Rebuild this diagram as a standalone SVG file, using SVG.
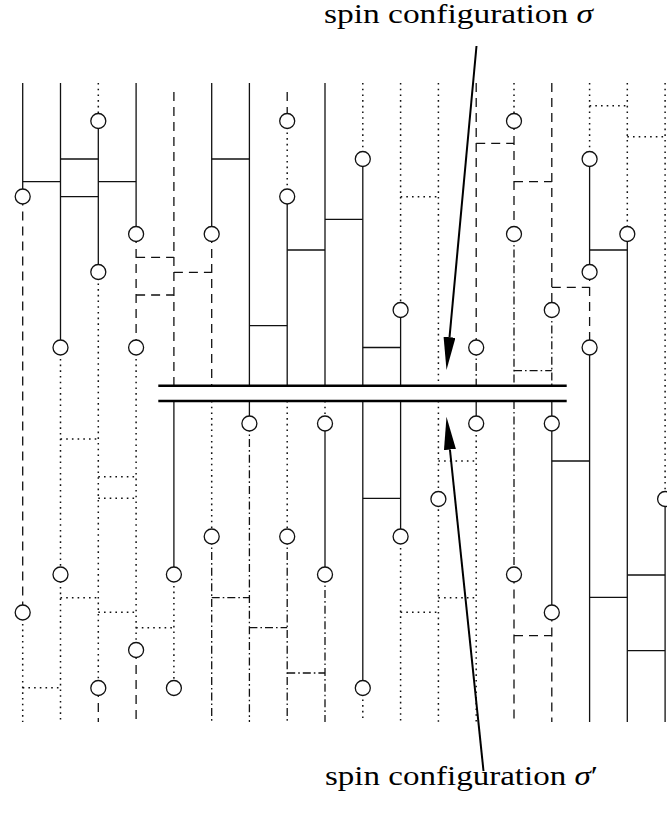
<svg xmlns="http://www.w3.org/2000/svg" width="667" height="814" viewBox="0 0 667 814">
<style>
  line { stroke:#111; stroke-width:1.3; fill:none; }
  .d { stroke-dasharray:9 6; }
  .o { stroke-dasharray:1.6 4.1; stroke-width:1.5; }
  .dd { stroke-dasharray:8 3 1.6 3; }
  circle { fill:#fff; stroke:#111; stroke-width:1.3; }
  .bar { stroke:#000; stroke-width:2.4; }
  .arrow { stroke:#000; stroke-width:2; }
  text { font-family:"Liberation Serif","DejaVu Serif",serif; font-size:27px; fill:#000; }
</style>
<defs>
  <marker id="ah" viewBox="0 0 33 12" refX="0" refY="6" markerWidth="33" markerHeight="12" markerUnits="userSpaceOnUse" orient="auto">
    <path d="M0,0 L33,6 L0,12 z" fill="#000"/>
  </marker>
</defs>
<rect width="667" height="814" fill="#fff"/>

<g id="bridges">
  <!-- solid -->
  <line x1="22.7" y1="181.7" x2="60.5" y2="181.7"/>
  <line x1="98.3" y1="181.7" x2="136.1" y2="181.7"/>
  <line x1="60.5" y1="159" x2="98.3" y2="159"/>
  <line x1="211.7" y1="159" x2="249.4" y2="159"/>
  <line x1="60.5" y1="196.7" x2="98.3" y2="196.7"/>
  <line x1="249.4" y1="325.7" x2="287.2" y2="325.7"/>
  <line x1="287.2" y1="250" x2="325" y2="250"/>
  <line x1="589.6" y1="250" x2="627.3" y2="250"/>
  <line x1="325" y1="219.3" x2="362.8" y2="219.3"/>
  <line x1="362.8" y1="347.5" x2="400.6" y2="347.5"/>
  <line x1="362.8" y1="498.3" x2="400.6" y2="498.3"/>
  <line x1="551.8" y1="461" x2="589.6" y2="461"/>
  <line x1="589.6" y1="597.3" x2="627.3" y2="597.3"/>
  <line x1="627.3" y1="575" x2="665.1" y2="575"/>
  <line x1="627.3" y1="650.7" x2="665.1" y2="650.7"/>
  <!-- dashed -->
  <line class="d" x1="136.1" y1="257.3" x2="173.9" y2="257.3"/>
  <line class="d" x1="136.1" y1="295" x2="173.9" y2="295"/>
  <line class="d" x1="173.9" y1="272.3" x2="211.7" y2="272.3"/>
  <line class="d" x1="476.2" y1="143.3" x2="514" y2="143.3"/>
  <line class="d" x1="514" y1="181.7" x2="551.8" y2="181.7"/>
  <line class="d" x1="551.8" y1="287.3" x2="589.6" y2="287.3"/>
  <line class="d" x1="514" y1="635.7" x2="551.8" y2="635.7"/>
  <!-- dotted -->
  <line class="o" x1="60.5" y1="439" x2="98.3" y2="439"/>
  <line class="o" x1="60.5" y1="597.7" x2="98.3" y2="597.7"/>
  <line class="o" x1="22.7" y1="687.7" x2="60.5" y2="687.7"/>
  <line class="o" x1="98.3" y1="476.7" x2="136.1" y2="476.7"/>
  <line class="o" x1="98.3" y1="498.3" x2="136.1" y2="498.3"/>
  <line class="o" x1="98.3" y1="612.3" x2="136.1" y2="612.3"/>
  <line class="o" x1="136.1" y1="627.7" x2="173.9" y2="627.7"/>
  <line class="o" x1="400.6" y1="196.7" x2="438.4" y2="196.7"/>
  <line class="o" x1="400.6" y1="612.3" x2="438.4" y2="612.3"/>
  <line class="o" x1="438.4" y1="461" x2="476.2" y2="461"/>
  <line class="o" x1="438.4" y1="597.7" x2="476.2" y2="597.7"/>
  <line class="o" x1="589.6" y1="105.7" x2="627.3" y2="105.7"/>
  <line class="o" x1="627.3" y1="136.7" x2="665.1" y2="136.7"/>
  <!-- dash-dot -->
  <line class="dd" x1="211.7" y1="597.7" x2="249.4" y2="597.7"/>
  <line class="dd" x1="249.4" y1="627.7" x2="287.2" y2="627.7"/>
  <line class="dd" x1="287.2" y1="673" x2="325" y2="673"/>
  <line class="dd" x1="514" y1="370.7" x2="551.8" y2="370.7"/>
</g>

<g id="col0">
  <line x1="22.7" y1="83" x2="22.7" y2="196.5"/>
  <line class="d" x1="22.7" y1="196.5" x2="22.7" y2="612.5"/>
  <line class="o" x1="22.7" y1="612.5" x2="22.7" y2="722"/>
  <circle cx="22.7" cy="196.5" r="7.5"/><circle cx="22.7" cy="612.5" r="7.5"/>
</g>
<g id="col1">
  <line x1="60.5" y1="83" x2="60.5" y2="347.5"/>
  <line class="o" x1="60.5" y1="347.5" x2="60.5" y2="722"/>
  <circle cx="60.5" cy="347.5" r="7.5"/><circle cx="60.5" cy="574.5" r="7.5"/>
</g>
<g id="col2">
  <line class="o" x1="98.3" y1="83" x2="98.3" y2="121"/>
  <line x1="98.3" y1="121" x2="98.3" y2="272"/>
  <line class="o" x1="98.3" y1="272" x2="98.3" y2="688"/>
  <line class="d" x1="98.3" y1="688" x2="98.3" y2="722"/>
  <circle cx="98.3" cy="121" r="7.5"/><circle cx="98.3" cy="272" r="7.5"/><circle cx="98.3" cy="688" r="7.5"/>
</g>
<g id="col3">
  <line x1="136.1" y1="83" x2="136.1" y2="234"/>
  <line class="d" x1="136.1" y1="234" x2="136.1" y2="347.5"/>
  <line class="o" x1="136.1" y1="347.5" x2="136.1" y2="650"/>
  <line class="d" x1="136.1" y1="650" x2="136.1" y2="722"/>
  <circle cx="136.1" cy="234" r="7.5"/><circle cx="136.1" cy="347.5" r="7.5"/><circle cx="136.1" cy="650" r="7.5"/>
</g>
<g id="col4">
  <line class="d" x1="173.9" y1="92" x2="173.9" y2="386"/>
  <line x1="173.9" y1="401" x2="173.9" y2="574.5"/>
  <line class="o" x1="173.9" y1="574.5" x2="173.9" y2="688"/>
  <circle cx="173.9" cy="574.5" r="7.5"/><circle cx="173.9" cy="688" r="7.5"/>
</g>
<g id="col5">
  <line x1="211.7" y1="83" x2="211.7" y2="234"/>
  <line class="d" x1="211.7" y1="234" x2="211.7" y2="386"/>
  <line class="o" x1="211.7" y1="401" x2="211.7" y2="536.5"/>
  <line class="dd" x1="211.7" y1="536.5" x2="211.7" y2="722"/>
  <circle cx="211.7" cy="234" r="7.5"/><circle cx="211.7" cy="536.5" r="7.5"/>
</g>
<g id="col6">
  <line x1="249.4" y1="83" x2="249.4" y2="386"/>
  <line x1="249.4" y1="401" x2="249.4" y2="423.5"/>
  <line class="dd" x1="249.4" y1="423.5" x2="249.4" y2="722"/>
  <circle cx="249.4" cy="423.5" r="7.5"/>
</g>
<g id="col7">
  <line class="d" x1="287.2" y1="92" x2="287.2" y2="121"/>
  <line class="o" x1="287.2" y1="121" x2="287.2" y2="196.5"/>
  <line x1="287.2" y1="196.5" x2="287.2" y2="386"/>
  <line class="o" x1="287.2" y1="401" x2="287.2" y2="536.5"/>
  <line class="dd" x1="287.2" y1="536.5" x2="287.2" y2="722"/>
  <circle cx="287.2" cy="121" r="7.5"/><circle cx="287.2" cy="196.5" r="7.5"/><circle cx="287.2" cy="536.5" r="7.5"/>
</g>
<g id="col8">
  <line x1="325" y1="83" x2="325" y2="386"/>
  <line class="o" x1="325" y1="401" x2="325" y2="423.5"/>
  <line x1="325" y1="423.5" x2="325" y2="574.5"/>
  <line class="dd" x1="325" y1="574.5" x2="325" y2="722"/>
  <circle cx="325" cy="423.5" r="7.5"/><circle cx="325" cy="574.5" r="7.5"/>
</g>
<g id="col9">
  <line class="o" x1="362.8" y1="83" x2="362.8" y2="159"/>
  <line x1="362.8" y1="159" x2="362.8" y2="386"/>
  <line x1="362.8" y1="401" x2="362.8" y2="688"/>
  <line class="o" x1="362.8" y1="688" x2="362.8" y2="722"/>
  <circle cx="362.8" cy="159" r="7.5"/><circle cx="362.8" cy="688" r="7.5"/>
</g>
<g id="col10">
  <line class="o" x1="400.6" y1="83" x2="400.6" y2="310"/>
  <line x1="400.6" y1="310" x2="400.6" y2="386"/>
  <line x1="400.6" y1="401" x2="400.6" y2="536.5"/>
  <line class="o" x1="400.6" y1="536.5" x2="400.6" y2="722"/>
  <circle cx="400.6" cy="310" r="7.5"/><circle cx="400.6" cy="536.5" r="7.5"/>
</g>
<g id="col11">
  <line class="o" x1="438.4" y1="83" x2="438.4" y2="386"/>
  <line class="o" x1="438.4" y1="401" x2="438.4" y2="722"/>
  <circle cx="438.4" cy="499" r="7.5"/>
</g>
<g id="col12">
  <line class="d" x1="476.2" y1="83" x2="476.2" y2="347.5"/>
  <line class="dd" x1="476.2" y1="347.5" x2="476.2" y2="386"/>
  <line x1="476.2" y1="401" x2="476.2" y2="423.5"/>
  <line class="o" x1="476.2" y1="423.5" x2="476.2" y2="722"/>
  <circle cx="476.2" cy="347.5" r="7.5"/><circle cx="476.2" cy="423.5" r="7.5"/>
</g>
<g id="col13">
  <line class="o" x1="514" y1="83" x2="514" y2="121"/>
  <line class="d" x1="514" y1="121" x2="514" y2="234"/>
  <line class="dd" x1="514" y1="234" x2="514" y2="386"/>
  <line class="dd" x1="514" y1="401" x2="514" y2="574.5"/>
  <line class="d" x1="514" y1="574.5" x2="514" y2="722"/>
  <circle cx="514" cy="121" r="7.5"/><circle cx="514" cy="234" r="7.5"/><circle cx="514" cy="574.5" r="7.5"/>
</g>
<g id="col14">
  <line class="d" x1="551.8" y1="83" x2="551.8" y2="310"/>
  <line class="dd" x1="551.8" y1="310" x2="551.8" y2="386"/>
  <line x1="551.8" y1="401" x2="551.8" y2="612.5"/>
  <line class="d" x1="551.8" y1="612.5" x2="551.8" y2="722"/>
  <circle cx="551.8" cy="310" r="7.5"/><circle cx="551.8" cy="423.5" r="7.5"/><circle cx="551.8" cy="612.5" r="7.5"/>
</g>
<g id="col15">
  <line class="o" x1="589.6" y1="83" x2="589.6" y2="159"/>
  <line x1="589.6" y1="159" x2="589.6" y2="272"/>
  <line class="d" x1="589.6" y1="272" x2="589.6" y2="347.5"/>
  <line x1="589.6" y1="347.5" x2="589.6" y2="722"/>
  <circle cx="589.6" cy="159" r="7.5"/><circle cx="589.6" cy="272" r="7.5"/><circle cx="589.6" cy="347.5" r="7.5"/>
</g>
<g id="col16">
  <line class="o" x1="627.3" y1="83" x2="627.3" y2="234"/>
  <line x1="627.3" y1="234" x2="627.3" y2="722"/>
  <circle cx="627.3" cy="234" r="7.5"/>
</g>
<g id="col17">
  <line class="o" x1="665.1" y1="83" x2="665.1" y2="499"/>
  <line x1="665.1" y1="499" x2="665.1" y2="722"/>
  <circle cx="665.1" cy="499" r="7.5"/>
</g>

<g id="bars">
  <line class="bar" x1="158.3" y1="385.7" x2="566.7" y2="385.7"/>
  <line class="bar" x1="158.3" y1="401" x2="566.7" y2="401"/>
</g>

<g id="connectors">
  <line class="arrow" x1="476.5" y1="46" x2="449.54" y2="337.14" marker-end="url(#ah)"/>
  <line class="arrow" x1="483.5" y1="771" x2="449.93" y2="449.52" marker-end="url(#ah)"/>
</g>

<g id="label-sigma">
  <text x="324" y="23" textLength="269" lengthAdjust="spacingAndGlyphs">spin configuration <tspan font-style="italic">σ</tspan></text>
</g>
<g id="label-sigma-prime">
  <text x="325" y="785" textLength="273" lengthAdjust="spacingAndGlyphs">spin configuration <tspan font-style="italic">σ</tspan>′</text>
</g>
</svg>
